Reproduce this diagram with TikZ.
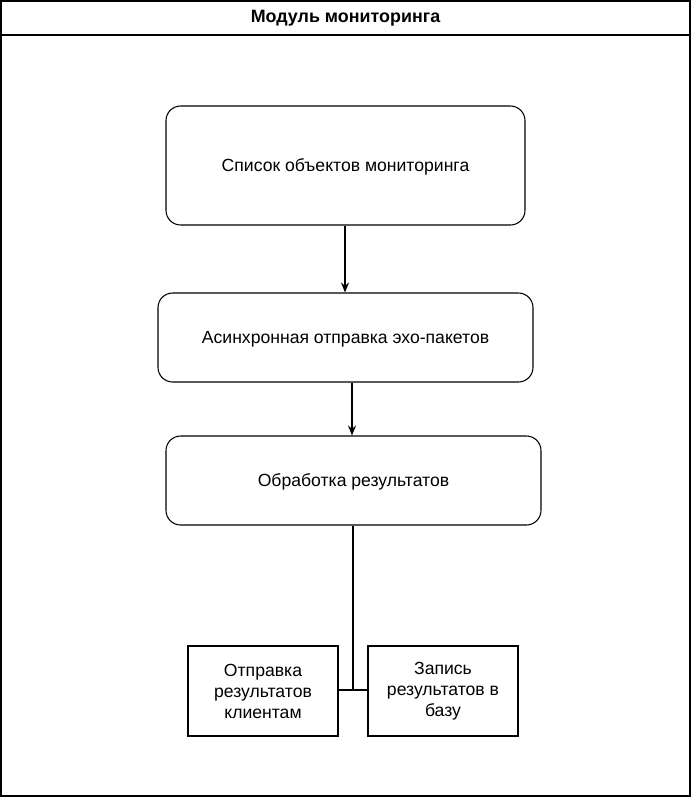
\documentclass[tikz,border=0pt]{standalone}
\usepackage{fontspec}
\setmainfont{Liberation Sans}
\usepackage{tikz}
\usetikzlibrary{arrows.meta}

\begin{document}
\begin{tikzpicture}[
  x=0.75pt, y=-0.75pt,
  stage/.style={rectangle, draw, rounded corners=11pt, line width=0.8pt,
    align=center, font=\fontsize{13.2}{15.5}\selectfont, inner sep=0pt,
    text depth=-3pt},
  sink/.style={rectangle, draw, line width=0.8pt, align=center,
    minimum width=112.5pt, minimum height=67.5pt, inner sep=0pt,
    font=\fontsize{13.2}{15.8}\selectfont},
  arrow/.style={-{Stealth[length=7.5pt, width=6pt, inset=2.5pt]}, line width=0.8pt},
  link/.style={line width=0.8pt}
]
  \useasboundingbox (0,0) rectangle (692,797);
  % module frame with title band
  \draw[line width=0.8pt] (1,1) rectangle (690,796);
  \draw[line width=0.8pt] (1,35) -- (690,35);
  \node[font=\bfseries\fontsize{13.4}{15}\selectfont] (title) at (345.5,18) {Модуль мониторинга};

  \node[stage, minimum width=269.25pt, minimum height=89.25pt] (objects) at (345.5,165.5) {Список объектов мониторинга};
  \node[stage, minimum width=281.25pt, minimum height=66.75pt] (ping) at (345.5,337.5) {Асинхронная отправка эхо-пакетов};
  \node[stage, minimum width=281.25pt, minimum height=66.75pt] (results) at (353.5,480.5) {Обработка результатов};

  \node[sink] (clients) at (263,691) {Отправка\\результатов\\клиентам};
  \node[sink] (db) at (443,691) {Запись\\результатов в\\базу};

  \coordinate (join) at (353,690);

  \draw[arrow] (objects.south -| 345,0) -- (ping.north -| 345,0);
  \draw[arrow] (ping.south -| 352,0) -- (results.north -| 352,0);
  \draw[link] (results.south -| join) -- (join);
  \draw[link] (clients.east |- join) -- (db.west |- join);
\end{tikzpicture}
\end{document}
